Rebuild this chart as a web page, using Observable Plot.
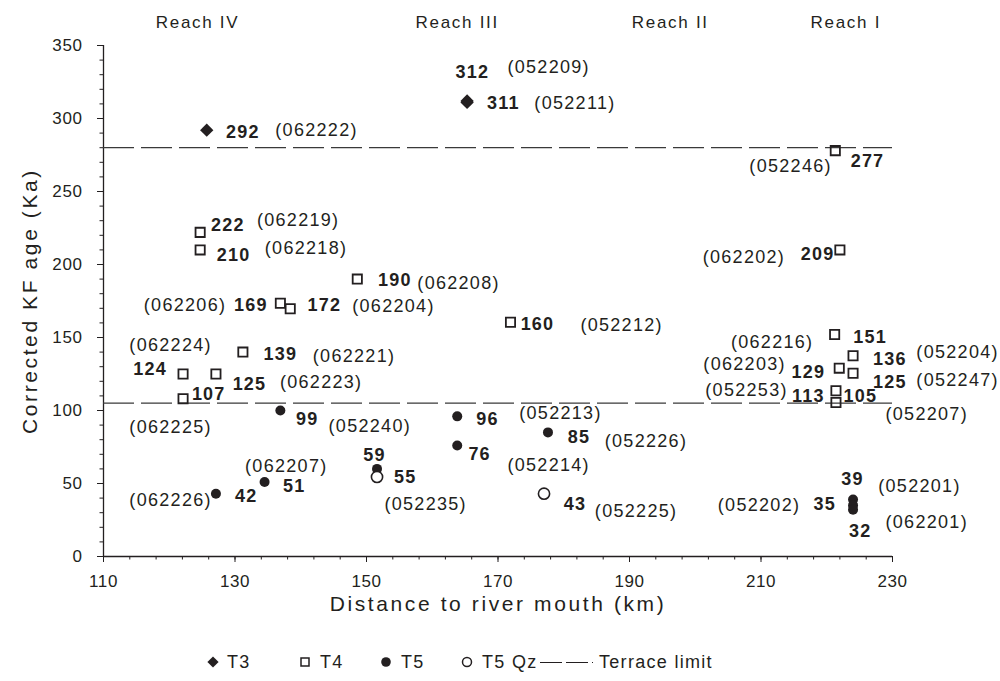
<!DOCTYPE html>
<html>
<head>
<meta charset="utf-8">
<script src="https://cdn.jsdelivr.net/npm/d3@7"></script>
<script src="https://cdn.jsdelivr.net/npm/@observablehq/plot@0.6"></script>
<style>
  body { margin: 0; background: #fff; font-family: "Liberation Sans", Arial, sans-serif; color: #231f20; }
  #legend { position: relative; height: 41px; font-size: 18px; letter-spacing: 1.3px; }
  #legend .sym { position: absolute; top: 15px; }
  #legend .lab { position: absolute; top: 11px; line-height: 22px; white-space: nowrap; }
</style>
</head>
<body>
<div id="chart"></div>
<div id="legend"></div>
<script>
// ---- data (km from river mouth, corrected KF age in Ka) ----
const t3X = [125.7, 165.3, 165.3];
const t3Y = [292, 312, 311];

const t4X = [124.7, 124.7, 148.6, 136.9, 138.4, 171.9, 131.2, 122.1, 127.1, 122.1,
             221.3, 222.0, 221.2, 224.0, 221.9, 224.0, 221.4, 221.4];
const t4Y = [222, 210, 190, 173.5, 169.7, 160.5, 140, 125, 125, 108,
             278, 210, 152, 137.5, 129, 125.5, 113.5, 105.5];

const t5X = [136.9, 163.8, 163.8, 151.6, 134.5, 127.1, 177.6, 224.0, 224.0, 224.0];
const t5Y = [100, 96, 76, 60, 51, 43, 85, 39, 35, 32];

const t5qzX = [151.6, 177.0];
const t5qzY = [54.5, 43];

const terraceLimits = [280, 105];
const terraceSpan = [110, 230];

const reachNames = ["Reach IV", "Reach III", "Reach II", "Reach I"];
const reachX = [124.3, 163.8, 196.2, 222.9];

// bold age labels
const ageText = ["292","312","311","277","209","222","210","190","169","172","160","139","124","125","107",
                 "99","96","76","85","59","55","51","42","43","151","136","129","125","113","105","39","35","32"];
const ageX = [131.2,166.1,170.8,226.2,218.6,128.9,129.8,154.3,132.4,143.6,176.0,136.9,117.1,132.2,126.0,
              141.0,168.4,167.2,182.3,151.2,155.9,139.0,131.7,181.7,226.6,229.6,217.2,229.6,217.2,225.1,223.9,219.7,225.1];
const ageY = [290.6,331.7,310.5,270.8,207.3,226.7,206.2,189.0,171.9,171.9,158.9,138.4,128.6,118.3,111.4,
              94.3,94.3,70.3,81.5,69.2,54.3,47.8,41.1,35.8,150.2,135.4,126.2,119.4,109.6,109.6,53.2,36.1,17.3];

// sample id labels
const idText = ["(062222)","(052209)","(052211)","(052246)","(062202)","(062219)","(062218)","(062208)","(062206)",
                "(062204)","(052212)","(062224)","(062221)","(062223)","(062225)","(052240)","(052213)","(052214)",
                "(052226)","(062207)","(052235)","(062226)","(052225)","(062216)","(052204)","(062203)","(052247)",
                "(052253)","(052207)","(052201)","(052202)","(062201)"];
const idX = [142.4,177.7,181.7,214.5,207.4,139.6,140.8,164.0,122.4,
             154.1,188.8,120.2,148.1,143.1,120.2,150.5,179.5,177.7,
             192.5,137.8,159.0,120.2,191.0,211.7,239.9,207.5,239.9,
             207.8,235.2,234.1,209.7,235.2];
const idY = [291.8,335.1,310.5,267.1,205.0,230.6,210.8,187.2,172.4,
             171.2,158.2,144.5,137.0,119.4,88.6,89.0,97.9,62.3,
             78.8,62.0,36.1,38.8,30.9,146.8,139.9,132.0,120.5,
             113.7,97.1,48.2,34.9,23.5];

const xTicks = d3.range(110, 231, 20);
const xMinor = d3.range(110, 231, 4);
const yTicks = d3.range(0, 351, 50);
const yMinor = d3.range(0, 351, 10);

const legendLabels = ["T3", "T4", "T5", "T5 Qz", "Terrace limit"];

// ---- tables built from arrays ----
const toRows = (xs, ys) => xs.map((x, i) => ({x, y: ys[i]}));
const t3 = toRows(t3X, t3Y), t4 = toRows(t4X, t4Y), t5 = toRows(t5X, t5Y), t5qz = toRows(t5qzX, t5qzY);

const ink = "#231f20";
const font = "Liberation Sans, Arial, sans-serif";

const chart = Plot.plot({
  width: 1000,
  height: 640,
  marginLeft: 103,
  marginRight: 108,
  marginTop: 45,
  marginBottom: 84,
  x: {domain: [110, 230]},
  y: {domain: [0, 350]},
  style: {fontFamily: font, fontSize: "17px", color: ink, background: "white", overflow: "visible"},
  marks: [
    Plot.axisX({ticks: xMinor, tickSize: 3.5, tickFormat: () => "", label: null, stroke: ink}),
    Plot.axisX({ticks: xTicks, tickSize: 6, tickPadding: 12, tickFormat: d3.format("d"), label: null, fontSize: 17, stroke: ink}),
    Plot.axisY({ticks: yMinor, tickSize: 3.5, tickFormat: () => "", label: null, stroke: ink}),
    Plot.axisY({ticks: yTicks, tickSize: 6, tickPadding: 15, tickFormat: d3.format("d"), label: null, fontSize: 17, stroke: ink}),
    Plot.ruleY([0], {stroke: ink, strokeWidth: 1.3}),
    Plot.ruleX([110], {stroke: ink, strokeWidth: 1.3}),
    Plot.ruleY(terraceLimits, {x1: terraceSpan[0], x2: terraceSpan[1], stroke: "#3a3a3a", strokeWidth: 1.3, strokeDasharray: "31,7"}),
    Plot.text(["Distance to river mouth (km)"], {frameAnchor: "bottom", lineAnchor: "middle", dy: 48, fontSize: 21, fill: ink}),
    Plot.text(["Corrected KF age (Ka)"], {frameAnchor: "left", textAnchor: "middle", lineAnchor: "middle", rotate: -90, dx: -73, fontSize: 21, fill: ink}),
    Plot.text(reachNames, {x: reachX, frameAnchor: "top", lineAnchor: "middle", dy: -23, fontSize: 17, fill: ink}),
    Plot.dot(t3, {x: "x", y: "y", symbol: "diamond2", r: 6, fill: ink, stroke: "none"}),
    Plot.dot(t4, {x: "x", y: "y", symbol: "square", r: 5.2, fill: "white", fillOpacity: 0, stroke: ink, strokeWidth: 1.8}),
    Plot.dot(t5, {x: "x", y: "y", symbol: "circle", r: 5, fill: ink, stroke: "none"}),
    Plot.dot(t5qz, {x: "x", y: "y", symbol: "circle", r: 5.6, fill: "white", stroke: ink, strokeWidth: 1.6}),
    Plot.text(ageText, {x: ageX, y: ageY, text: d => d, fontWeight: "bold", fontSize: 18, fill: ink}),
    Plot.text(idText, {x: idX, y: idY, text: d => d, fontSize: 18, fill: ink})
  ]
});
document.getElementById("chart").appendChild(chart);

// letter spacing per text mark (titles, reach names, age labels, ids)
const spacing = [2.6, 2.6, 1.7, 1.2, 1.3];
chart.querySelectorAll('g[aria-label="text"]').forEach((g, i) => {
  g.style.letterSpacing = (spacing[i] ?? 1) + "px";
});
chart.querySelectorAll('g[aria-label$="tick label"]').forEach(g => { g.style.letterSpacing = "0.6px"; });

// ---- legend ----
const legend = d3.select("#legend");
const symX = [213, 305, 386, 467];
const labX = [227, 320, 401, 482, 599];
const drawers = [
  g => g.append("path").attr("d", d3.symbol(d3.symbolDiamond2, 80)()).attr("fill", ink),
  g => g.append("path").attr("d", d3.symbol(d3.symbolSquare, 64)()).attr("fill", "none").attr("stroke", ink).attr("stroke-width", 1.5),
  g => g.append("circle").attr("r", 4.8).attr("fill", ink),
  g => g.append("circle").attr("r", 4.5).attr("fill", "none").attr("stroke", ink).attr("stroke-width", 1.5)
];
drawers.forEach((draw, i) => {
  const s = legend.append("svg").attr("class", "sym").attr("width", 14).attr("height", 14)
    .style("left", (symX[i] - 7) + "px");
  draw(s.append("g").attr("transform", "translate(7,7)"));
});
const ls = legend.append("svg").attr("class", "sym").attr("width", 56).attr("height", 14).style("left", "540px");
ls.append("line").attr("x1", 0).attr("x2", 53).attr("y1", 7.5).attr("y2", 7.5)
  .attr("stroke", ink).attr("stroke-width", 1.2).attr("stroke-dasharray", "22,4,22,4,2");
legendLabels.forEach((t, i) => {
  legend.append("div").attr("class", "lab").style("left", labX[i] + "px").text(t);
});
</script>
</body>
</html>
